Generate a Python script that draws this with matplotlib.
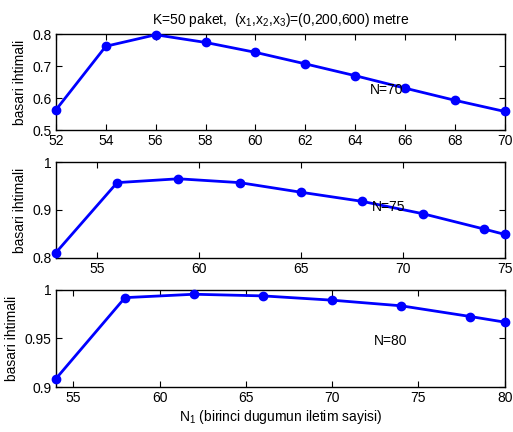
import matplotlib
matplotlib.use("Agg")
import matplotlib.pyplot as plt

plt.rcParams['font.family'] = ['Liberation Sans', 'DejaVu Sans']
plt.rcParams['mathtext.fontset'] = 'custom'
plt.rcParams['mathtext.rm'] = 'Liberation Sans'
plt.rcParams['mathtext.it'] = 'Liberation Sans'
plt.rcParams['mathtext.default'] = 'regular'

# Data
x70 = [52, 54, 56, 58, 60, 62, 64, 66, 68, 70]
y70 = [0.563, 0.762, 0.798, 0.774, 0.743, 0.707, 0.670, 0.631, 0.593, 0.558]
x75 = [53, 56, 59, 62, 65, 68, 71, 74, 75]
y75 = [0.811, 0.957, 0.965, 0.957, 0.937, 0.918, 0.892, 0.860, 0.849]
x80 = [54, 58, 62, 66, 70, 74, 78, 80]
y80 = [0.9086, 0.992, 0.9955, 0.9938, 0.9894, 0.9836, 0.9726, 0.9668]

xt70 = [52, 54, 56, 58, 60, 62, 64, 66, 68, 70]
yt70 = [0.5, 0.6, 0.7, 0.8]
xt75 = [55, 60, 65, 70, 75]
yt75 = [0.8, 0.9, 1.0]
xt80 = [55, 60, 65, 70, 75, 80]
yt80 = [0.9, 0.95, 1.0]

fig = plt.figure(figsize=(5.13, 4.32), dpi=100)
left, width = 0.109, 0.875
rects = [(left, 0.699, width, 0.222), (left, 0.403, width, 0.222), (left, 0.104, width, 0.225)]

panels = [
    (x70, y70, (52, 70), (0.5, 0.8), xt70, yt70, ['0.5', '0.6', '0.7', '0.8'], 'N=70', (64.57, 0.625)),
    (x75, y75, (53, 75), (0.8, 1.0), xt75, yt75, ['0.8', '0.9', '1'], 'N=75', (68.5, 0.906)),
    (x80, y80, (54, 80), (0.9, 1.0), xt80, yt80, ['0.9', '0.95', '1'], 'N=80', (72.4, 0.947)),
]

axes = []
for rect, (xs, ys, xl, yl, xt, yt, ytl, lab, pos) in zip(rects, panels):
    ax = fig.add_axes(rect)
    ax.plot(xs, ys, color=(0, 0, 1), lw=2, marker='o', ms=6, clip_on=False, zorder=3)
    ax.set_xlim(*xl)
    ax.set_ylim(*yl)
    ax.set_xticks(xt)
    ax.set_yticks(yt)
    ax.set_yticklabels(ytl)
    ax.tick_params(direction='in', length=4, width=0.8, top=True, right=True, labelsize=10, pad=3)
    ax.set_ylabel('basari ihtimali', fontsize=10, labelpad=4)
    ax.text(pos[0], pos[1], lab, fontsize=10, ha='left', va='center')
    for s in ax.spines.values():
        s.set_linewidth(1.0)
    axes.append(ax)

axes[0].set_title('K=50 paket,  (x$_1$,x$_2$,x$_3$)=(0,200,600) metre', fontsize=10, pad=7)
axes[2].set_xlabel('N$_1$ (birinci dugumun iletim sayisi)', fontsize=10, labelpad=2)

fig.savefig('out.png', dpi=100)
